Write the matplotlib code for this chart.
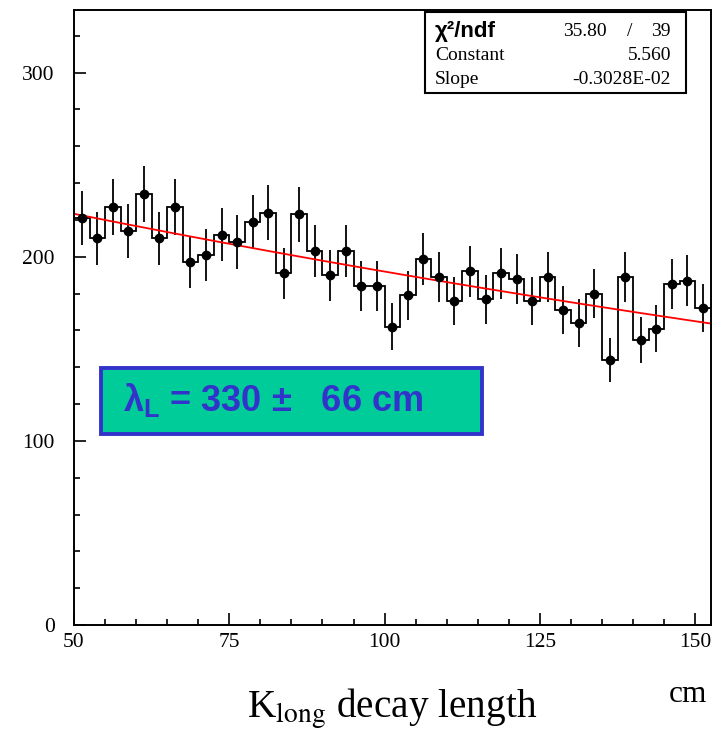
import numpy as np
import matplotlib
matplotlib.use("Agg")
import matplotlib.pyplot as plt
from matplotlib.ticker import MultipleLocator
from matplotlib.patches import Rectangle

# histogram: 41 bins of 2.5 cm from 50 to 152.5
edges = np.arange(50, 152.5 + 0.01, 2.5)
counts = [221, 210, 227, 214, 234, 210, 227, 197, 201, 212,
          208, 219, 224, 191, 223, 203, 190, 203, 184, 184,
          162, 179, 199, 189, 176, 192, 177, 191, 188, 176,
          189, 171, 164, 180, 144, 189, 155, 161, 185, 187, 172]
# exponential fit parameters (from the stats box)
fit_const = 5.560
fit_slope = -0.3028e-02
chi2, ndf = 35.80, 39

counts = np.array(counts)
centers = 0.5 * (edges[:-1] + edges[1:])
errs = np.sqrt(counts)

plt.rcParams['mathtext.fontset'] = 'custom'
plt.rcParams['mathtext.rm'] = 'Liberation Sans:bold'
plt.rcParams['mathtext.it'] = 'Liberation Sans:bold'
plt.rcParams['mathtext.bf'] = 'Liberation Sans:bold'

fig = plt.figure(figsize=(7.22, 7.36), dpi=100)
ax = fig.add_axes([74/722, 1 - 625/736, (710.7 - 74)/722, (625 - 10)/736])

ax.stairs(counts, edges, baseline=None, color='black', lw=1.3)
ax.errorbar(centers, counts, yerr=errs, fmt='o', color='black', ms=6,
            elinewidth=1.3, capsize=0)
xf = np.linspace(edges[0], edges[-1], 200)
ax.plot(xf, np.exp(fit_const + fit_slope * xf), color='red', lw=1.3)

ax.set_xlim(50, 152.5)
ax.set_ylim(0, 334)
ax.xaxis.set_major_locator(MultipleLocator(25))
ax.xaxis.set_minor_locator(MultipleLocator(5))
ax.yaxis.set_major_locator(MultipleLocator(100))
ax.yaxis.set_minor_locator(MultipleLocator(20))
ax.tick_params(which='both', direction='in', top=False, right=False, width=1.2)
ax.tick_params(which='major', length=8.5)
ax.tick_params(which='minor', length=4.3)
ax.tick_params(axis='x', pad=6)
ax.tick_params(axis='y', pad=14)
for lab in ax.get_xticklabels() + ax.get_yticklabels():
    lab.set_fontfamily('Liberation Serif')
    lab.set_fontsize(15.5)
for s in ax.spines.values():
    s.set_linewidth(1.4)

# stats box
bx0, by0, bx1, by1 = 425/722, 1 - 93/736, 686/722, 1 - 12/736
fig.patches.append(Rectangle((bx0, by0), bx1 - bx0, by1 - by0, transform=fig.transFigure,
                             facecolor='white', edgecolor='black', lw=1.5, zorder=5))
rows = [1 - 32/736, 1 - 55/736, 1 - 79/736]
fs = 14
fig.text(435/722, rows[0], 'χ²/ndf', family='Liberation Sans', weight='bold',
         fontsize=16, va='center', zorder=6)
fig.text(607/722, rows[0], '%.2f' % chi2, family='Liberation Serif', fontsize=fs,
         va='center', ha='right', zorder=6)
fig.text(630/722, rows[0], '/', family='Liberation Serif', fontsize=fs,
         va='center', ha='center', zorder=6)
fig.text(671/722, rows[0], '%d' % ndf, family='Liberation Serif', fontsize=fs,
         va='center', ha='right', zorder=6)
fig.text(435/722, rows[1], 'Constant', family='Liberation Serif', fontsize=fs,
         va='center', zorder=6)
fig.text(671/722, rows[1], '%.3f' % fit_const, family='Liberation Serif', fontsize=fs,
         va='center', ha='right', zorder=6)
fig.text(435/722, rows[2], 'Slope', family='Liberation Serif', fontsize=fs,
         va='center', zorder=6)
fig.text(671/722, rows[2], '-0.3028E-02', family='Liberation Serif', fontsize=fs,
         va='center', ha='right', zorder=6)

# result box
gx0, gy0, gx1, gy1 = 101/722, 1 - 434/736, 482/722, 1 - 368/736
fig.patches.append(Rectangle((gx0, gy0), gx1 - gx0, gy1 - gy0, transform=fig.transFigure,
                             facecolor='#00CC99', edgecolor='#3333CC', lw=2.8, zorder=5))
lam = 1.0 / -fit_slope
fig.text(123/722, 1 - 400/736, r'$\lambda_{L}$ = %d ±   66 cm' % round(lam),
         family='Liberation Sans', weight='bold', fontsize=26, color='#3333CC',
         va='center', ha='left', math_fontfamily='custom', zorder=6)

# axis titles
fig.text(392/722, 1 - 718/736, r'K$_{\mathrm{long}}$ decay length', family='Liberation Serif',
         fontsize=28.3, ha='center', va='baseline', math_fontfamily='stix')
fig.text(688/722, 1 - 695/736, 'cm', family='Liberation Serif', fontsize=22.5,
         ha='center', va='center')

fig.savefig('out.png', dpi=100)
